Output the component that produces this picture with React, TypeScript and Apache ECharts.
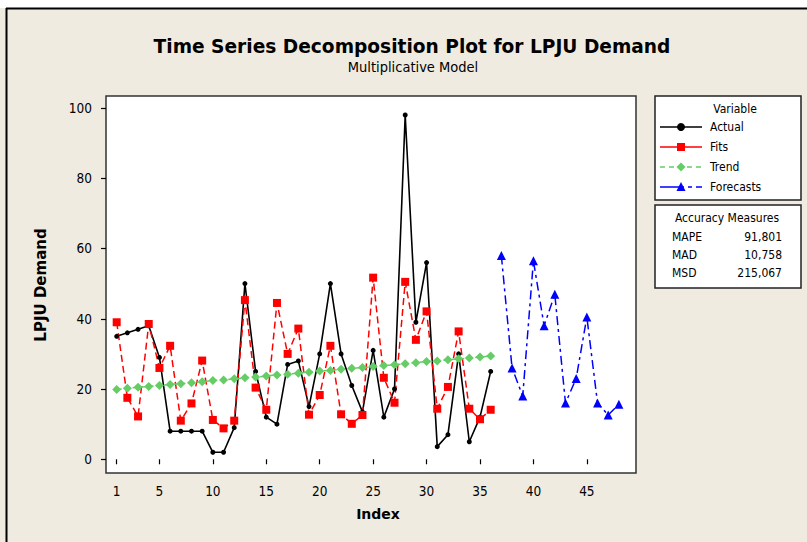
import React, { useEffect, useRef } from "react";
import * as echarts from "echarts";

const actual = [35, 36, 37, 38, 29, 8, 8, 8, 8, 2, 2, 9, 50, 25, 12, 10, 27, 28, 15, 30, 50, 30, 21, 13.5, 31, 12, 20, 98, 39, 56, 3.6, 7, 30, 5, 12, 25];
const fits = [39, 17.5, 12.2, 38.5, 26, 32.3, 11, 15.9, 28.1, 11.2, 8.8, 11, 45.3, 20.4, 14.1, 44.5, 30, 37.2, 12.7, 18.3, 32.3, 12.8, 10.1, 12.6, 51.7, 23.2, 16.1, 50.5, 34, 42.1, 14.4, 20.6, 36.4, 14.4, 11.4, 14.1];
const trend = [19.9, 20.2, 20.5, 20.7, 21.0, 21.3, 21.5, 21.8, 22.1, 22.4, 22.6, 22.9, 23.2, 23.4, 23.7, 24.0, 24.2, 24.5, 24.8, 25.1, 25.3, 25.6, 25.9, 26.1, 26.4, 26.7, 26.9, 27.2, 27.5, 27.8, 28.0, 28.3, 28.6, 28.8, 29.1, 29.4];
const forecasts = [58, 26, 18, 56.5, 38, 47, 16, 23, 40.5, 16, 12.6, 15.7];
const forecastStart = 37;
const xTicks = [1, 5, 10, 15, 20, 25, 30, 35, 40, 45];
const yTicks = [0, 20, 40, 60, 80, 100];
const legendNames = ["Actual", "Fits", "Trend", "Forecasts"];
const accuracyLabels = ["MAPE", "MAD", "MSD"];
const accuracyValues = ["91,801", "10,758", "215,067"];

const FONT = "'DejaVu Sans Condensed', 'DejaVu Sans', sans-serif";
const WIDE = "'DejaVu Sans', sans-serif";

export default function App() {
  const ref = useRef<HTMLDivElement>(null);
  useEffect(() => {
    if (!ref.current) return;
    const chart = echarts.init(ref.current, null, { renderer: "svg" });
    const colors = ["#000000", "#FF0000", "#66CC66", "#0000FF"];
    const rowY = [127, 147, 167, 187];
    const legendGraphics: any[] = [];
    rowY.forEach((y, i) => {
      const c = colors[i];
      if (i === 0 || i === 1) {
        legendGraphics.push({ type: "line", shape: { x1: 660, y1: y, x2: 702, y2: y }, style: { stroke: c, lineWidth: 1.5 } });
      } else if (i === 2) {
        legendGraphics.push({ type: "line", shape: { x1: 660, y1: y, x2: 702, y2: y }, style: { stroke: c, lineWidth: 1.5, lineDash: [5, 4] } });
      } else {
        legendGraphics.push({ type: "line", shape: { x1: 660, y1: y, x2: 702, y2: y }, style: { stroke: c, lineWidth: 1.5, lineDash: [24, 4, 4, 4] } });
      }
      if (i === 0) legendGraphics.push({ type: "circle", shape: { cx: 681, cy: y, r: 4 }, style: { fill: c } });
      if (i === 1) legendGraphics.push({ type: "rect", shape: { x: 677, y: y - 4, width: 8, height: 8 }, style: { fill: c } });
      if (i === 2) legendGraphics.push({ type: "polygon", shape: { points: [[681, y - 4.5], [685.5, y], [681, y + 4.5], [676.5, y]] }, style: { fill: c } });
      if (i === 3) legendGraphics.push({ type: "polygon", shape: { points: [[681, y - 5], [685.5, y + 4], [676.5, y + 4]] }, style: { fill: c } });
      legendGraphics.push({ type: "text", x: 710, y, style: { text: legendNames[i], fill: "#000", font: `12px ${FONT}`, textVerticalAlign: "middle" } });
    });
    const accY = [237, 255, 273];
    accY.forEach((y, i) => {
      legendGraphics.push({ type: "text", x: 672, y, style: { text: accuracyLabels[i], fill: "#000", font: `12px ${FONT}`, textVerticalAlign: "middle" } });
      legendGraphics.push({ type: "text", x: 782, y, style: { text: accuracyValues[i], fill: "#000", font: `12px ${FONT}`, textAlign: "right", textVerticalAlign: "middle" } });
    });

    chart.setOption({
      animation: false,
      backgroundColor: "#F0EBE0",
      grid: { left: 106, top: 96, width: 530, height: 377, show: true, backgroundColor: "#FFFFFF", borderColor: "#333333", borderWidth: 1.5 },
      xAxis: {
        type: "value", min: 0, max: 49.6,
        axisLine: { show: false },
        splitLine: { show: false },
        axisTick: { show: true, customValues: xTicks, length: 5, lineStyle: { color: "#000", width: 1.2 } },
        axisLabel: { customValues: xTicks, color: "#000", fontSize: 13.5, fontFamily: FONT, margin: 11 },
      },
      yAxis: {
        type: "value", min: -3.9, max: 103.4,
        axisLine: { show: false },
        splitLine: { show: false },
        axisTick: { show: true, customValues: yTicks, length: 5, lineStyle: { color: "#000", width: 1.2 } },
        axisLabel: { customValues: yTicks, color: "#000", fontSize: 13.5, fontFamily: FONT, margin: 14 },
      },
      series: [
        {
          name: "Actual", type: "line", data: actual.map((v, i) => [i + 1, v]),
          symbol: "circle", symbolSize: 5, itemStyle: { color: "#000" }, lineStyle: { color: "#000", width: 1.6 },
        },
        {
          name: "Fits", type: "line", data: fits.map((v, i) => [i + 1, v]),
          symbol: "rect", symbolSize: 8, itemStyle: { color: "#FF0000" }, lineStyle: { color: "#FF0000", width: 1.5, type: [7, 4] },
        },
        {
          name: "Trend", type: "line", data: trend.map((v, i) => [i + 1, v]),
          symbol: "diamond", symbolSize: 9, itemStyle: { color: "#66CC66" }, lineStyle: { color: "#66CC66", width: 1.5, type: [5, 3] },
        },
        {
          name: "Forecasts", type: "line", data: forecasts.map((v, i) => [forecastStart + i, v]),
          symbol: "triangle", symbolSize: 9, itemStyle: { color: "#0000FF" }, lineStyle: { color: "#0000FF", width: 1.5, type: [9, 4, 3, 4] },
        },
      ],
      graphic: [
        { type: "rect", shape: { x: 0, y: 0, width: 807, height: 8 }, style: { fill: "#FFFFFF" } },
        { type: "line", shape: { x1: 6, y1: 8.5, x2: 807, y2: 8.5 }, style: { stroke: "#000", lineWidth: 2 } },
        { type: "line", shape: { x1: 6.5, y1: 8, x2: 6.5, y2: 542 }, style: { stroke: "#000", lineWidth: 2 } },
        { type: "text", x: 412, y: 46, style: { text: "Time Series Decomposition Plot for LPJU Demand", fill: "#000", font: `bold 18.6px ${WIDE}`, textAlign: "center", textVerticalAlign: "middle" } },
        { type: "text", x: 413, y: 67, style: { text: "Multiplicative Model", fill: "#000", font: `14.5px ${FONT}`, textAlign: "center", textVerticalAlign: "middle" } },
        { type: "text", x: 378, y: 514, style: { text: "Index", fill: "#000", font: `bold 14px ${WIDE}`, textAlign: "center", textVerticalAlign: "middle" } },
        { type: "text", x: 41, y: 285, rotation: Math.PI / 2, style: { text: "LPJU Demand", fill: "#000", font: `bold 15px ${WIDE}`, textAlign: "center", textVerticalAlign: "middle" } },
        { type: "rect", shape: { x: 655, y: 96, width: 146, height: 104 }, style: { fill: "#FFFFFF", stroke: "#222", lineWidth: 1.5 } },
        { type: "text", x: 735, y: 109, style: { text: "Variable", fill: "#000", font: `12px ${FONT}`, textAlign: "center", textVerticalAlign: "middle" } },
        { type: "rect", shape: { x: 655, y: 205, width: 146, height: 83 }, style: { fill: "#FFFFFF", stroke: "#222", lineWidth: 1.5 } },
        { type: "text", x: 727, y: 218, style: { text: "Accuracy Measures", fill: "#000", font: `12px ${FONT}`, textAlign: "center", textVerticalAlign: "middle" } },
        ...legendGraphics,
      ],
    });
    return () => chart.dispose();
  }, []);
  return <div ref={ref} style={{ position: "absolute", left: 0, top: 0, width: 807, height: 542 }} />;
}
